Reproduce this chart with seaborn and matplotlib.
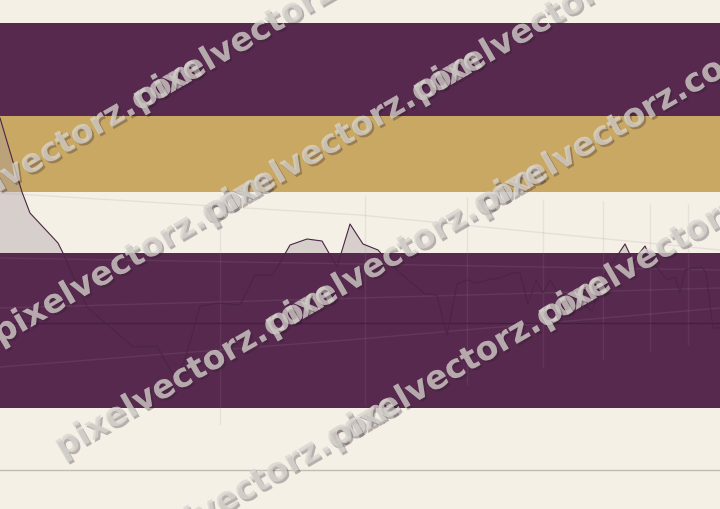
import matplotlib
matplotlib.use('Agg')
import matplotlib.pyplot as plt
import matplotlib.patheffects as pe
import seaborn as sns
import pandas as pd

# series (x = day index, y = level)
days = [0, 22, 30, 58, 63, 87, 133, 157, 175, 185, 200, 220, 240, 255, 273, 290,
        307, 322, 337, 350, 363, 378, 393, 425, 437, 447, 457, 467, 477, 487, 500,
        512, 520, 528, 536, 543, 550, 557, 565, 580, 592, 603, 613, 625, 633, 645,
        653, 660, 667, 675, 680, 685, 693, 702, 706, 713, 720]
level = [391, 317, 296, 266, 256, 202, 162, 163, 131, 149, 203, 206, 204, 234, 234, 264,
         270, 268, 242, 285, 265, 259, 242, 215, 214, 174, 225, 229, 226, 229, 231,
         236, 236, 205, 229, 216, 229, 218, 209, 206, 198, 232, 247, 265, 248, 263,
         246, 238, 229, 232, 216, 239, 241, 242, 236, 181, 181]

# horizontal bands (bottom, top, colour)
band_lo = [486, 393, 317, 256, 101, 0]
band_hi = [509, 486, 393, 317, 256, 101]
band_col = ['#f4f0e6', '#57294f', '#c8a862', '#f4f0e6', '#57294f', '#f4f0e6']

ref_level = 186      # dark reference line
floor_level = 39     # grey line in the bottom band

# faint vertical guides
guide_x = [220, 365, 467, 543, 603, 650, 688]
guide_lo = [84, 104, 124, 141, 149, 157, 164]
guide_hi = [314, 314, 312, 310, 308, 306, 305]

# faint trend lines
trend_x = [0, 360, 720]
trends = [[316, 294, 259], [142, 170, 201], [201, 211, 221], [251, 245, 239]]

df = pd.DataFrame({'day': days, 'level': level})

fig = plt.figure(figsize=(7.2, 5.09), dpi=100)
fig.patch.set_facecolor('#f4f0e6')
ax = fig.add_axes([0, 0, 1, 1])
ax.set_axis_off()

for lo, hi, c in zip(band_lo, band_hi, band_col):
    z = 2 if c == '#57294f' else 0
    ax.axhspan(lo, hi, color=c, zorder=z, lw=0)

ax.fill_between(df.day, df.level, ref_level, color='#a89aa0', alpha=0.38, lw=0, zorder=1)

ax.vlines(guide_x, guide_lo, guide_hi, color='#a08898', alpha=0.14, lw=1, zorder=3)
for t in trends:
    ax.plot(trend_x, t, color='#a08898', alpha=0.16, lw=1, zorder=3)

ax.axhline(ref_level, color='#3e1a3a', lw=1, alpha=0.7, zorder=3)
ax.axhline(floor_level, color='#c4bcb4', lw=1, zorder=3)

sns.lineplot(data=df, x='day', y='level', ax=ax, color='#4a2545', lw=0.8,
             estimator=None, sort=False, zorder=4)

ax.set_xlim(0, 720)
ax.set_ylim(0, 509)

# watermark rows, three tiles each
row_start_x = [-70, 0, 62, 125]
row_start_y = [232, 345, 458, 570]
for rx, ry in zip(row_start_x, row_start_y):
    for k in range(3):
        px = rx + 210 * k
        py = ry - 210 * k * 0.577
        fig.text(px / 100, (509 - py) / 100, 'pixelvectorz.com',
                 transform=fig.dpi_scale_trans, rotation=30, rotation_mode='anchor',
                 ha='left', va='baseline', fontsize=23.8, fontweight='bold',
                 color='#d9d6d0', alpha=0.5, zorder=10,
                 path_effects=[pe.withSimplePatchShadow(offset=(1.5, -1.5),
                                                        shadow_rgbFace='#2e1a2a',
                                                        alpha=0.3),
                               pe.Normal()])

fig.savefig('out.png', dpi=100, facecolor=fig.get_facecolor())
